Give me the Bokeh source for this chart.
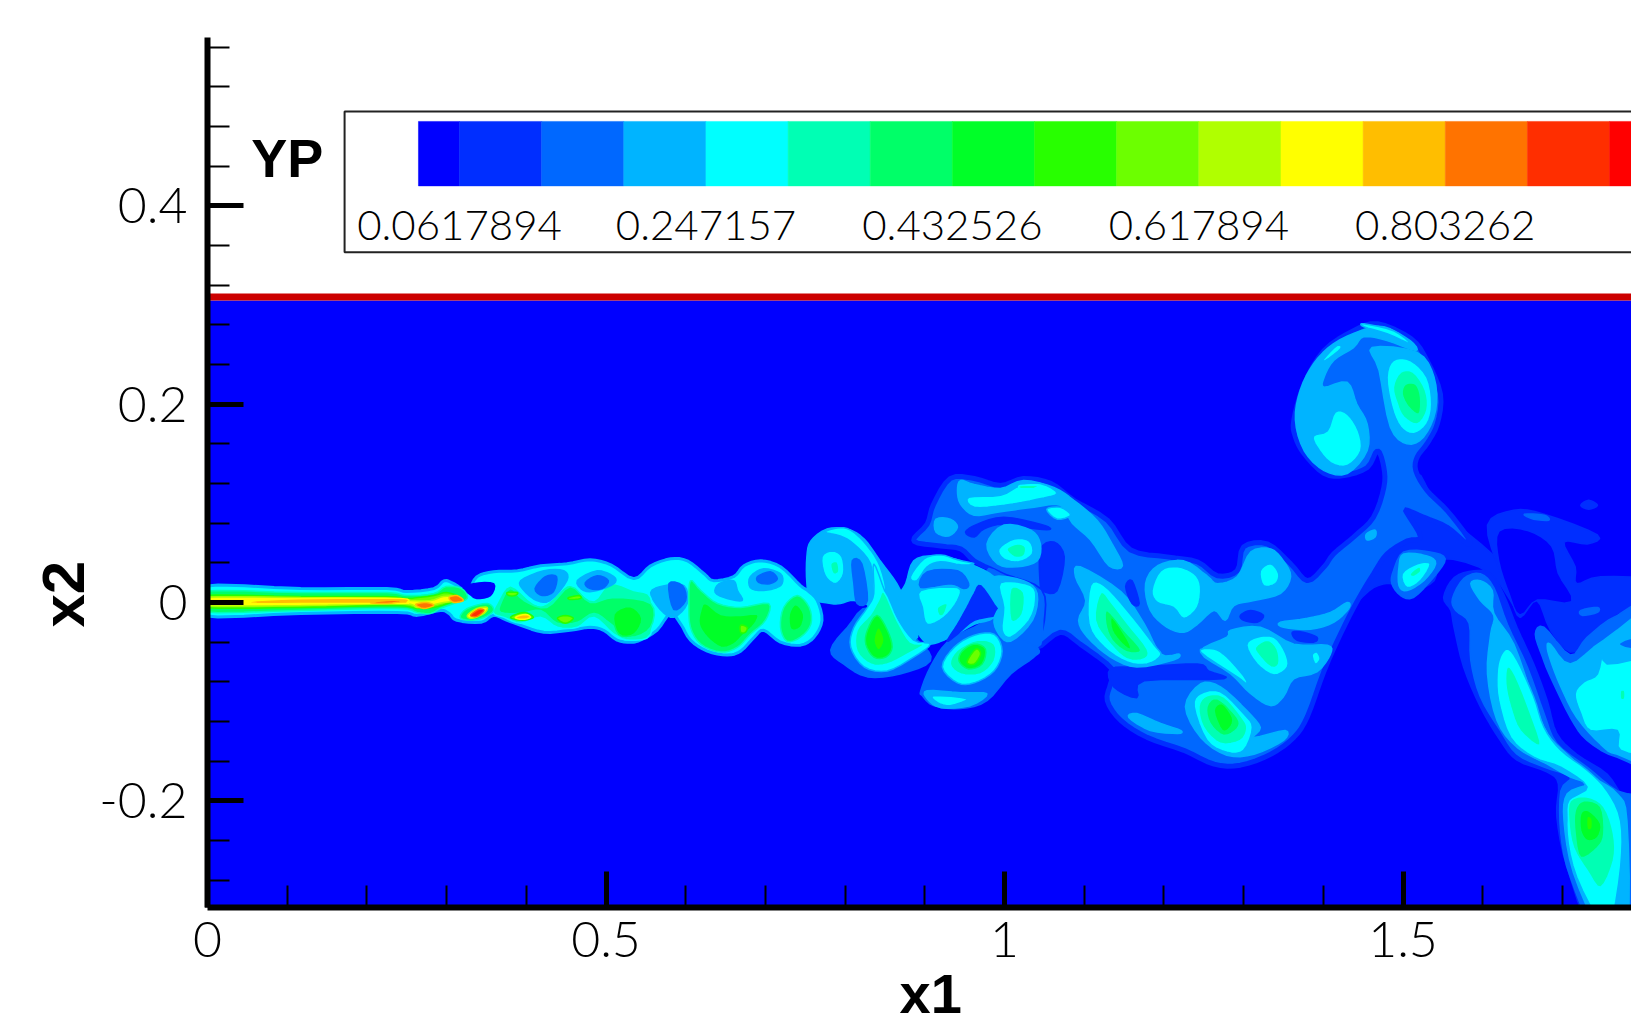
from bokeh.embed import file_html
from bokeh.resources import INLINE
from bokeh.plotting import figure
from bokeh.models import ColumnDataSource, FixedTicker, Label, Title

# ---- legend -------------------------------------------------------------
LEVEL_COLORS = ["#0000ff", "#002eff", "#0068ff", "#00b4ff", "#00ffff", "#00ffb4", "#00ff68", "#00ff28",
                "#28ff00", "#6cff00", "#b0ff00", "#ffff00", "#ffbe00", "#ff7300", "#ff2e00", "#ff0000"]
LEVEL_EDGES = [0.030895, 0.0617894, 0.123579, 0.185368, 0.247157, 0.308947, 0.370736, 0.432526, 0.494315,
               0.556105, 0.617894, 0.679684, 0.741473, 0.803262, 0.865052, 0.926841, 1.02]
LEGEND_TICKS = [0.0617894, 0.247157, 0.432526, 0.617894, 0.803262]
LEGEND_TEXT = ["0.0617894", "0.247157", "0.432526", "0.617894", "0.803262"]

# ---- axes ---------------------------------------------------------------
X_MAJOR = [0, 0.5, 1, 1.5]
X_MINOR = [0.1, 0.2, 0.3, 0.4, 0.6, 0.7, 0.8, 0.9, 1.1, 1.2, 1.3, 1.4, 1.6, 1.7]
Y_MAJOR = [-0.2, 0, 0.2, 0.4]
Y_MINOR = [-0.28, -0.24, -0.16, -0.12, -0.08, -0.04, 0.04, 0.08, 0.12, 0.16, 0.24, 0.28, 0.32, 0.36,
           0.44, 0.48, 0.52, 0.56]

# ---- contour bands: (level index, outline in x1, x2) ---------------------
WALL_DARK = [
    (1, [(1.518,.13),(1.539,.103),(1.572,.076),(1.622,.039),(1.648,-.015),(1.61,.029),(1.551,.044),(1.539,.022),(1.514,.011),(1.497,.007),(1.486,.019),(1.463,.015),(1.443,.002),(1.463,.029),(1.48,.049),(1.505,.062),(1.505,.09)]),
    (1, [(1.606,.078),(1.639,.093),(1.677,.089),(1.744,.068),(1.731,.059),(1.702,.061),(1.716,.036),(1.718,.019),(1.748,.026),(1.82,.022),(1.82,.002),(1.769,-.011),(1.731,-.038),(1.71,-.05),(1.685,-.028),(1.668,.002),(1.647,-.015),(1.635,.005),(1.622,.03)]),
    (0, [(1.622,.071),(1.656,.071),(1.685,.056),(1.693,.029),(1.71,.002),(1.668,.004),(1.647,-.011),(1.635,.009),(1.622,.042)]),
    (1, [(1.723,.098),(1.733,.103),(1.744,.098),(1.733,.094)]),
    (2, [(1.652,.089),(1.677,.088),(1.683,.083),(1.664,.084)]),
    (2, [(1.723,-.008),(1.744,-.005),(1.744,-.01),(1.725,-.013)]),
]
BODY = [
    (2, [(.886,.062),(.903,.079),(.911,.099),(.932,.125),(.962,.125),(.995,.118),(1.024,.125),(1.058,.12),(1.087,.103),(1.129,.083),(1.158,.053),(1.204,.046),(1.242,.041),(1.267,.027),(1.292,.032),(1.3,.056),(1.33,.059),(1.359,.039),(1.38,.022),(1.401,.036),(1.413,.049),(1.438,.066),(1.463,.086),(1.476,.116),(1.476,.136),(1.468,.153),(1.455,.136),(1.426,.128),(1.401,.13),(1.376,.15),(1.365,.167),(1.363,.184),(1.376,.22),(1.401,.254),(1.438,.274),(1.468,.281),(1.51,.266),(1.53,.244),(1.547,.21),(1.543,.18),(1.53,.16),(1.518,.147),(1.516,.133),(1.53,.113),(1.555,.093),(1.581,.066),(1.581,.059),(1.555,.076),(1.526,.086),(1.505,.093),(1.505,.09),(1.522,.066),(1.505,.062),(1.48,.049),(1.463,.029),(1.443,.002),(1.422,-.031),(1.401,-.069),(1.38,-.115),(1.363,-.136),(1.334,-.153),(1.296,-.164),(1.263,-.163),(1.225,-.149),(1.179,-.136),(1.146,-.119),(1.129,-.099),(1.133,-.082),(1.135,-.067),(1.095,-.042),(1.07,-.03),(1.041,-.045),(1.048,-.018),(1.045,.012),(1.003,.026),(.987,.032),(.962,.042),(.945,.054),(.92,.057)]),
    (1, [(1.133,-.067),(1.171,-.065),(1.242,-.062),(1.256,-.069),(1.275,-.077),(1.175,-.079),(1.166,-.096),(1.137,-.085)]),
    (1, [(.951,.071),(.966,.079),(.999,.086),(1.045,.079),(1.058,.074),(1.041,.074),(.999,.079),(.974,.074),(.962,.066)]),
    (1, [(1.045,.053),(1.062,.061),(1.075,.046),(1.066,.012),(1.049,.011),(1.045,.016)]),
    (3, [(.941,.113),(.945,.123),(.962,.119),(.995,.115),(1.024,.123),(1.062,.116),(1.087,.103),(1.116,.083),(1.135,.059),(1.148,.037),(1.131,.037),(1.108,.063),(1.085,.08),(1.07,.098),(1.037,.096),(.991,.091),(.962,.088),(.945,.099)]),
    (4, [(.955,.106),(.995,.108),(1.02,.118),(1.045,.12),(1.066,.11),(1.041,.104),(1.0,.098),(.962,.096)]),
    (5, [(1.02,.118),(1.041,.118),(1.037,.115),(1.02,.115)]),
    (4, [(1.053,.094),(1.07,.096),(1.083,.088),(1.066,.084)]),
    (3, [(.914,.084),(.932,.084),(.941,.076),(.93,.067),(.914,.071)]),
    (3, [(.978,.059),(.999,.078),(1.033,.073),(1.045,.059),(1.041,.042),(1.016,.036),(.991,.039)]),
    (4, [(.993,.054),(1.012,.064),(1.031,.062),(1.035,.049),(1.018,.041),(.999,.044)]),
    (5, [(1.003,.054),(1.016,.059),(1.026,.056),(1.024,.047),(1.012,.046)]),
]
CENTRE = [
    (3, [(1.177,.019),(1.192,.037),(1.225,.042),(1.254,.027),(1.267,.019),(1.292,.026),(1.309,.051),(1.334,.054),(1.35,.042),(1.359,.026),(1.346,.009),(1.313,.002),(1.288,-.003),(1.277,-.018),(1.263,-.008),(1.242,-.022),(1.225,-.03),(1.204,-.025),(1.183,-.008)]),
    (4, [(1.185,.012),(1.196,.032),(1.217,.036),(1.238,.029),(1.246,.016),(1.242,-.005),(1.225,-.016),(1.212,-.005),(1.192,.0)]),
    (4, [(1.321,.032),(1.334,.039),(1.344,.029),(1.34,.019),(1.325,.017)]),
    (3, [(1.089,.026),(1.095,.036),(1.146,.011),(1.175,-.021),(1.196,-.052),(1.219,-.052),(1.212,-.058),(1.166,-.065),(1.133,-.055),(1.104,-.035),(1.093,-.018),(1.102,.002)]),
    (4, [(1.108,.017),(1.125,.017),(1.154,-.008),(1.187,-.042),(1.196,-.053),(1.179,-.062),(1.154,-.06),(1.125,-.045),(1.106,-.022)]),
    (5, [(1.121,.01),(1.135,-.001),(1.154,-.021),(1.179,-.047),(1.175,-.057),(1.154,-.057),(1.133,-.042),(1.114,-.018)]),
    (6, [(1.129,-.008),(1.15,-.028),(1.171,-.048),(1.154,-.05),(1.135,-.038),(1.127,-.021)]),
    (7, [(1.135,-.015),(1.154,-.037),(1.158,-.047),(1.148,-.042),(1.135,-.028)]),
    (3, [(1.346,-.02),(1.38,-.016),(1.409,-.01),(1.43,.0),(1.432,-.006),(1.413,-.02),(1.384,-.027),(1.35,-.025)]),
    (3, [(1.246,-.05),(1.279,-.035),(1.284,-.028),(1.321,-.025),(1.363,-.042),(1.405,-.043),(1.409,-.052),(1.392,-.07),(1.363,-.077),(1.35,-.095),(1.334,-.104),(1.309,-.092),(1.284,-.072)]),
    (4, [(1.304,-.043),(1.317,-.035),(1.338,-.035),(1.352,-.05),(1.355,-.065),(1.338,-.073),(1.317,-.062)]),
    (5, [(1.315,-.045),(1.33,-.038),(1.342,-.047),(1.344,-.062),(1.334,-.065),(1.319,-.053)]),
    (4, [(1.246,-.05),(1.263,-.047),(1.279,-.055),(1.3,-.074),(1.304,-.082),(1.292,-.075)]),
    (4, [(1.386,-.053),(1.392,-.05),(1.396,-.057),(1.39,-.062)]),
    (3, [(1.227,-.105),(1.246,-.082),(1.271,-.085),(1.304,-.109),(1.321,-.126),(1.313,-.136),(1.352,-.129),(1.35,-.139),(1.313,-.153),(1.279,-.154),(1.246,-.136)]),
    (4, [(1.238,-.105),(1.246,-.092),(1.271,-.09),(1.3,-.112),(1.311,-.126),(1.3,-.149),(1.279,-.151),(1.254,-.139)]),
    (5, [(1.244,-.105),(1.254,-.094),(1.275,-.095),(1.298,-.116),(1.304,-.127),(1.296,-.139),(1.271,-.142),(1.25,-.126)]),
    (6, [(1.254,-.105),(1.267,-.097),(1.292,-.116),(1.292,-.127),(1.275,-.134),(1.258,-.122)]),
    (7, [(1.263,-.109),(1.273,-.102),(1.286,-.116),(1.283,-.126),(1.273,-.129)]),
    (3, [(1.156,-.116),(1.166,-.112),(1.196,-.122),(1.221,-.129),(1.217,-.132),(1.183,-.129)]),
    (1, [(1.296,-.013),(1.309,-.008),(1.325,-.013),(1.317,-.02),(1.3,-.018)]),
    (1, [(1.361,-.03),(1.375,-.03),(1.392,-.035),(1.388,-.04),(1.367,-.038)]),
    (1, [(1.152,.016),(1.16,.022),(1.169,-.001),(1.16,-.001)]),
]
MUSHROOM = [
    (3, [(1.365,.184),(1.371,.214),(1.388,.241),(1.413,.261),(1.447,.274),(1.476,.278),(1.509,.264),(1.516,.254),(1.48,.264),(1.451,.268),(1.438,.257),(1.413,.244),(1.401,.227),(1.401,.217),(1.43,.222),(1.442,.2),(1.455,.18),(1.455,.153),(1.43,.13),(1.401,.133),(1.376,.153)]),
    (3, [(1.461,.257),(1.518,.252),(1.539,.227),(1.541,.194),(1.526,.167),(1.505,.16),(1.484,.177),(1.47,.234)]),
    (4, [(1.401,.246),(1.417,.259),(1.422,.256),(1.403,.244)]),
    (4, [(1.451,.281),(1.488,.274),(1.509,.261),(1.48,.271),(1.451,.278)]),
    (4, [(1.388,.168),(1.405,.173),(1.415,.192),(1.43,.19),(1.444,.173),(1.447,.153),(1.43,.138),(1.409,.141),(1.392,.157)]),
    (4, [(1.48,.227),(1.488,.244),(1.509,.244),(1.53,.227),(1.536,.2),(1.53,.18),(1.513,.17),(1.497,.177),(1.486,.197)]),
    (5, [(1.488,.217),(1.497,.232),(1.513,.232),(1.528,.214),(1.53,.194),(1.518,.18),(1.501,.187),(1.493,.2)]),
    (6, [(1.499,.21),(1.503,.22),(1.516,.22),(1.522,.207),(1.52,.19),(1.507,.197)]),
    (3, [(1.454,.069),(1.465,.073),(1.465,.066),(1.455,.063)]),
    (2, [(1.488,.032),(1.501,.051),(1.534,.051),(1.553,.044),(1.539,.026),(1.513,.005),(1.497,.007),(1.486,.019)]),
    (3, [(1.495,.036),(1.501,.049),(1.53,.047),(1.541,.039),(1.526,.022),(1.505,.012),(1.495,.017)]),
    (4, [(1.499,.029),(1.518,.039),(1.534,.039),(1.522,.022),(1.505,.015)]),
    (5, [(1.509,.029),(1.52,.036),(1.522,.031),(1.513,.026)]),
]
RIGHT_SIDE = [
    (1, [(1.551,.005),(1.564,.025),(1.589,.032),(1.61,.029),(1.626,.009),(1.643,-.025),(1.664,-.062),(1.681,-.099),(1.693,-.132),(1.718,-.153),(1.756,-.173),(1.781,-.2),(1.82,-.216),(1.82,-.33),(1.741,-.33),(1.706,-.267),(1.693,-.216),(1.695,-.183),(1.681,-.171),(1.643,-.159),(1.622,-.139),(1.597,-.105),(1.576,-.065),(1.564,-.025),(1.56,-.008)]),
    (2, [(1.562,.004),(1.576,.024),(1.597,.029),(1.614,.015),(1.631,-.022),(1.656,-.065),(1.677,-.112),(1.693,-.142),(1.731,-.166),(1.769,-.19),(1.82,-.21),(1.82,-.33),(1.745,-.33),(1.71,-.277),(1.698,-.233),(1.698,-.19),(1.71,-.176),(1.677,-.166),(1.643,-.153),(1.622,-.129),(1.597,-.095),(1.585,-.058),(1.583,-.021),(1.566,-.008)]),
    (3, [(1.585,.019),(1.597,.022),(1.612,.012),(1.614,-.011),(1.639,-.042),(1.664,-.099),(1.681,-.132),(1.706,-.153),(1.739,-.176),(1.769,-.193),(1.781,-.22),(1.781,-.33),(1.748,-.33),(1.714,-.273),(1.702,-.22),(1.706,-.193),(1.731,-.183),(1.71,-.176),(1.681,-.163),(1.643,-.146),(1.618,-.119),(1.606,-.072),(1.61,-.032),(1.614,-.013),(1.597,.002)]),
    (4, [(1.622,-.055),(1.631,-.047),(1.643,-.058),(1.664,-.095),(1.677,-.126),(1.698,-.149),(1.731,-.169),(1.756,-.19),(1.773,-.22),(1.773,-.267),(1.76,-.33),(1.752,-.33),(1.718,-.277),(1.706,-.233),(1.71,-.2),(1.731,-.186),(1.698,-.166),(1.664,-.156),(1.635,-.136),(1.62,-.099),(1.618,-.072)]),
    (5, [(1.631,-.065),(1.641,-.074),(1.66,-.112),(1.672,-.144),(1.647,-.129),(1.635,-.105),(1.629,-.082)]),
    (5, [(1.71,-.2),(1.731,-.196),(1.752,-.206),(1.764,-.233),(1.764,-.26),(1.748,-.287),(1.731,-.27),(1.714,-.247),(1.708,-.22)]),
    (6, [(1.716,-.21),(1.727,-.2),(1.748,-.206),(1.752,-.233),(1.744,-.247),(1.723,-.257),(1.716,-.233)]),
    (7, [(1.723,-.213),(1.733,-.21),(1.748,-.223),(1.744,-.237),(1.731,-.24),(1.723,-.23)]),
    (8, [(1.731,-.216),(1.737,-.218),(1.737,-.228),(1.731,-.228)]),
    (2, [(1.666,-.032),(1.677,-.025),(1.71,-.053),(1.731,-.035),(1.769,-.013),(1.82,-.005),(1.82,-.156),(1.769,-.156),(1.731,-.139),(1.71,-.116),(1.685,-.075),(1.675,-.055)]),
    (3, [(1.681,-.045),(1.685,-.042),(1.71,-.062),(1.752,-.038),(1.82,-.013),(1.82,-.153),(1.769,-.153),(1.748,-.143),(1.718,-.116),(1.698,-.085),(1.685,-.058)]),
    (2, [(1.773,-.042),(1.82,-.032),(1.82,-.047)]),
    (4, [(1.716,-.092),(1.727,-.08),(1.744,-.072),(1.752,-.045),(1.756,-.062),(1.82,-.062),(1.82,-.147),(1.773,-.149),(1.769,-.129),(1.735,-.129),(1.723,-.112)]),
    (5, [(1.773,-.089),(1.778,-.089),(1.778,-.097),(1.773,-.097)]),
]
LOWER_VORTICES = [
    (2, [(.782,-.048),(.803,-.025),(.832,-.005),(.891,-.038),(.907,-.059),(.869,-.072),(.828,-.075),(.798,-.062)]),
    (2, [(.895,-.089),(.907,-.065),(.928,-.04),(.962,-.025),(.999,-.015),(1.041,-.045),(1.037,-.055),(1.008,-.072),(.978,-.099),(.945,-.107),(.911,-.104),(.897,-.094)]),
    (2, [(.978,.032),(1.003,.026),(1.045,.012),(1.048,-.018),(1.041,-.045),(.999,-.015)]),
    (3, [(.752,.046),(.757,.062),(.777,.074),(.803,.074),(.824,.064),(.844,.042),(.865,.019),(.878,-.005),(.891,-.035),(.861,-.038),(.832,-.005),(.811,.002),(.794,-.001),(.782,-.001),(.757,.004),(.752,.02)]),
    (4, [(.775,.071),(.79,.075),(.807,.073),(.828,.057),(.844,.036),(.851,.009),(.836,.009),(.832,.039),(.811,.059),(.794,.067)]),
    (2, [(.809,.042),(.821,.039),(.828,.002),(.815,-.001),(.811,.019)]),
    (4, [(.771,.046),(.784,.052),(.796,.046),(.798,.029),(.788,.019),(.775,.027)]),
    (5, [(.782,.039),(.79,.041),(.792,.031),(.785,.029)]),
    (3, [(.876,.019),(.886,.042),(.911,.047),(.945,.042),(.982,.029),(1.003,.009),(.987,-.015),(.962,-.022),(.932,-.035),(.907,-.042),(.895,-.035),(.878,-.015),(.865,.002)]),
    (4, [(.882,.026),(.899,.044),(.92,.048),(.941,.043),(.962,.039),(.945,.038),(.92,.041),(.903,.036),(.89,.022)]),
    (2, [(.903,.031),(.941,.032),(.955,.019),(.949,.014),(.932,.019),(.895,.015)]),
    (4, [(.895,.012),(.941,.015),(.941,.002),(.924,-.015),(.903,-.022),(.897,-.005)]),
    (5, [(.916,-.005),(.928,-.001),(.924,-.012),(.918,-.013)]),
    (1, [(.962,.009),(.97,.017),(.987,-.002),(.993,-.012),(.962,-.018),(.941,-.032),(.928,-.039),(.941,-.022),(.953,-.005)]),
    (4, [(.836,.039),(.851,.009),(.865,-.015),(.886,-.038),(.907,-.042),(.886,-.055),(.853,-.069),(.824,-.065),(.807,-.045),(.811,-.025),(.828,-.005),(.836,.009)]),
    (5, [(.849,.01),(.865,-.018),(.882,-.04),(.899,-.042),(.878,-.052),(.853,-.062),(.832,-.062),(.815,-.049),(.815,-.028),(.832,-.012),(.842,.002)]),
    (7, [(.84,-.013),(.853,-.028),(.859,-.045),(.851,-.055),(.836,-.055),(.826,-.042),(.828,-.028)]),
    (8, [(.842,-.025),(.849,-.038),(.842,-.048),(.836,-.038)]),
    (4, [(.962,-.033),(.987,-.032),(.997,-.049),(.987,-.069),(.962,-.081),(.941,-.081),(.922,-.065),(.937,-.045)]),
    (5, [(.966,-.038),(.987,-.042),(.987,-.059),(.97,-.072),(.945,-.072),(.932,-.062),(.941,-.048)]),
    (7, [(.962,-.042),(.976,-.047),(.972,-.062),(.955,-.067),(.943,-.059),(.947,-.049)]),
    (9, [(.964,-.047),(.97,-.052),(.962,-.062),(.953,-.06)]),
    (3, [(.903,-.089),(.945,-.091),(.978,-.092),(.957,-.104),(.92,-.106),(.903,-.097)]),
    (4, [(.911,-.094),(.953,-.097),(.932,-.104),(.916,-.101)]),
    (3, [(.987,.026),(1.024,.022),(1.041,.009),(1.035,-.018),(1.008,-.039),(.993,-.032),(.987,-.015),(1.003,.009)]),
    (4, [(.995,.02),(1.033,.017),(1.039,.002),(1.031,-.018),(1.008,-.035),(.997,-.028),(.999,-.005)]),
    (5, [(1.008,.014),(1.024,.01),(1.022,-.012),(1.008,-.018)]),
]
WAKE = [
    (4, [(-.01,.016),(.117,.014),(.225,.014),(.25,.011),(.284,.014),(.297,.022),(.309,.019),(.326,.012),(.338,.026),(.359,.031),(.389,.032),(.418,.037),(.451,.039),(.48,.043),(.506,.038),(.535,.024),(.556,.037),(.581,.044),(.602,.042),(.623,.029),(.635,.022),(.66,.026),(.673,.037),(.694,.042),(.719,.036),(.744,.017),(.753,.012),(.765,.002),(.771,-.018),(.761,-.035),(.744,-.043),(.719,-.04),(.698,-.028),(.686,-.035),(.669,-.049),(.652,-.053),(.627,-.049),(.606,-.038),(.594,-.022),(.581,-.011),(.564,-.028),(.543,-.038),(.531,-.04),(.514,-.038),(.497,-.028),(.48,-.025),(.455,-.028),(.422,-.03),(.393,-.023),(.376,-.018),(.359,-.013),(.343,-.02),(.313,-.018),(.303,-.011),(.292,-.008),(.263,-.013),(.238,-.01),(.117,-.011),(-.01,-.013)]),
    (3, [(.556,.01),(.573,.017),(.598,.017),(.602,-.001),(.585,-.015),(.568,-.007)]),
    (2, [(.579,.019),(.596,.017),(.6,.002),(.585,-.007)]),
    (3, [(.681,.026),(.698,.034),(.719,.029),(.721,.019),(.711,.014),(.694,.012),(.681,.015)]),
    (2, [(.69,.026),(.706,.031),(.715,.024),(.706,.019),(.692,.02)]),
    (3, [(.642,.019),(.66,.022),(.665,.012),(.671,.002),(.652,.004),(.637,.01)]),
    (6, [(.606,.022),(.619,.012),(.64,-.001),(.669,-.005),(.704,-.001),(.7,-.018),(.681,-.032),(.665,-.045),(.644,-.05),(.619,-.042),(.606,-.025),(.604,-.001)]),
    (7, [(.625,-.001),(.644,-.012),(.669,-.013),(.69,-.012),(.686,-.022),(.673,-.032),(.66,-.042),(.644,-.045),(.627,-.035),(.617,-.022),(.619,-.008)]),
    (9, [(.669,-.023),(.677,-.025),(.675,-.03),(.669,-.03)]),
    (6, [(.74,.007),(.755,-.005),(.757,-.022),(.744,-.035),(.727,-.039),(.719,-.025),(.723,-.005)]),
    (7, [(.738,-.002),(.748,-.012),(.744,-.025),(.732,-.027),(.73,-.012)]),
    (5, [(.363,-.001),(.38,.017),(.409,-.001),(.426,-.001),(.451,.017),(.464,.012),(.485,.002),(.505,.019),(.535,.012),(.556,.005),(.556,-.032),(.53,-.038),(.51,-.032),(.485,-.015),(.464,-.025),(.439,-.025),(.418,-.015),(.393,-.021),(.372,-.015),(.359,-.011)]),
    (6, [(.368,-.001),(.38,.014),(.397,.002),(.426,-.005),(.455,.016),(.48,.0),(.51,.005),(.556,-.001),(.556,-.025),(.53,-.035),(.505,-.021),(.485,-.011),(.464,-.02),(.439,-.021),(.418,-.008),(.393,-.011),(.368,-.01)]),
    (7, [(.51,-.012),(.53,-.004),(.545,-.016),(.535,-.032),(.516,-.032)]),
    (9, [(.439,-.016),(.449,-.013),(.459,-.016),(.449,-.021)]),
    (9, [(.376,.01),(.389,.01),(.386,.007),(.378,.007)]),
    (9, [(.453,.005),(.466,.007),(.468,.004),(.455,.003)]),
    (9, [(.38,-.015),(.397,-.01),(.409,-.015),(.395,-.018)]),
    (12, [(.386,-.015),(.399,-.012),(.405,-.015),(.395,-.017)]),
    (3, [(.393,.022),(.422,.032),(.447,.032),(.451,.022),(.43,.002),(.413,.002),(.397,.012)]),
    (2, [(.411,.014),(.424,.026),(.438,.026),(.434,.011),(.42,.007)]),
    (3, [(.464,.022),(.489,.032),(.51,.026),(.51,.019),(.489,.012),(.472,.012)]),
    (2, [(.474,.02),(.489,.027),(.503,.022),(.495,.014),(.48,.014)]),
    (0, [(.32,.014),(.334,.019),(.359,.019),(.355,.007),(.338,.004),(.328,.009)]),
]
JET = [
    (6, [(-.01,.011),(.117,.01),(.225,.01),(.25,.007),(.284,.009),(.299,.016),(.319,.014),(.326,.004),(.309,-.001),(.292,-.006),(.28,-.011),(.263,-.01),(.238,-.006),(.117,-.008),(-.01,-.009)]),
    (9, [(-.01,.007),(.117,.006),(.225,.006),(.25,.004),(.284,.007),(.3,.01),(.317,.005),(.305,.0),(.284,-.005),(.263,-.006),(.234,-.003),(.117,-.005),(-.01,-.005)]),
    (11, [(-.01,.005),(.117,.005),(.225,.004),(.255,.002),(.28,.002),(.296,.006),(.313,.006),(.317,.002),(.296,.0),(.28,-.003),(.263,-.005),(.242,-.001),(.117,-.003),(-.01,-.003)]),
    (12, [(.062,.002),(.137,.004),(.242,.004),(.25,.0),(.242,-.001),(.137,-.001),(.062,-.001)]),
    (13, [(.261,-.002),(.275,.0),(.284,-.003),(.271,-.006)]),
    (13, [(.303,.005),(.313,.007),(.321,.002),(.309,.0)]),
    (13, [(.204,.0),(.225,.002),(.25,.002),(.225,-.001)]),
    (6, [(.317,-.015),(.326,-.006),(.351,-.001),(.359,-.008),(.347,-.015),(.33,-.018)]),
    (11, [(.326,-.013),(.338,-.006),(.351,-.005),(.347,-.011),(.332,-.016)]),
    (14, [(.33,-.013),(.34,-.007),(.347,-.008),(.338,-.014)]),
]

# frame in data units, picture margins in pixels
X_END, Y_TOP, Y_BOT = 1.7867, 0.5696, -0.3075
FIG_W, FIG_H = 1631, 1027
BORDER_L, BORDER_T, BORDER_B = 207, 37, 120
FONT_THIN = "Lato Light"
FONT_BOLD = "Liberation Sans"


def smooth(points, steps=4):
    n, out = len(points), []
    for i in range(n):
        p0, p1, p2, p3 = points[i - 1], points[i], points[(i + 1) % n], points[(i + 2) % n]
        for s in range(steps):
            t = s / steps
            out.append(tuple(
                0.5 * (2 * b + (c - a) * t + (2 * a - 5 * b + 4 * c - d) * t * t + (3 * b - a - 3 * c + d) * t ** 3)
                for a, b, c, d in zip(p0, p1, p2, p3)))
    return out


p = figure(width=FIG_W, height=FIG_H, x_range=(0, X_END), y_range=(Y_BOT, Y_TOP),
           output_backend="svg", toolbar_location=None,
           min_border_left=BORDER_L, min_border_right=0, min_border_top=BORDER_T, min_border_bottom=BORDER_B)
p.outline_line_color = None
p.grid.visible = False
p.background_fill_color = "white"

# flow domain and upper wall
p.quad(left=0, right=1.9, top=0.3044, bottom=-0.33, fill_color=LEVEL_COLORS[0], line_color=None)
p.quad(left=0, right=1.9, top=0.3115, bottom=0.3044, fill_color="#cc0000", line_color=None)

groups = [WALL_DARK, BODY, CENTRE, MUSHROOM, RIGHT_SIDE, LOWER_VORTICES, WAKE, JET]
xs, ys, fills, edges, widths = [], [], [], [], []
for group in groups:
    for level, pts in group:
        sm = smooth(pts)
        xs.append([q[0] for q in sm])
        ys.append([q[1] for q in sm])
        big = len(pts) > 40
        fills.append(LEVEL_COLORS[level])
        rim = level - 1 if (level >= 4 or big) else level
        edges.append(LEVEL_COLORS[rim])
        widths.append(5 if (level == 2 and big) else (3 if (level == 4 and big) else 1.5))
p.patches("xs", "ys", source=ColumnDataSource(dict(xs=xs, ys=ys, f=fills, e=edges, w=widths)),
          fill_color="f", line_color="e", line_width="w")

# legend
p.quad(left=0.172, right=1.9, top=0.495, bottom=0.353, fill_color="white", line_color="#222222", line_width=2)


def legend_x(v):
    return 0.3162 + (v - LEGEND_TICKS[0]) * 0.10307 / 0.0617894


p.quad(left=[legend_x(v) for v in LEVEL_EDGES[:-1]], right=[legend_x(v) for v in LEVEL_EDGES[1:]],
       top=0.485, bottom=0.42, fill_color=LEVEL_COLORS, line_color=LEVEL_COLORS, line_width=0.5)
for v, t in zip(LEGEND_TICKS, LEGEND_TEXT):
    p.add_layout(Label(x=legend_x(v), y=0.38, text=t, text_font=FONT_THIN, text_font_size="42px",
                       text_align="center", text_baseline="middle", text_color="black"))
p.add_layout(Label(x=0.1, y=0.4486, text="YP", text_font=FONT_BOLD, text_font_style="bold",
                   text_font_size="54px", text_align="center", text_baseline="middle", text_color="black"))

# axes
for ax, major, minor, standoff in ((p.xaxis[0], X_MAJOR, X_MINOR, 14), (p.yaxis[0], Y_MAJOR, Y_MINOR, 20)):
    ax.ticker = FixedTicker(ticks=major, minor_ticks=minor)
    ax.major_label_overrides = {v: ("%g" % v) for v in major}
    ax.axis_line_color = "black"
    ax.axis_line_width = 6
    ax.major_tick_line_color = "black"
    ax.major_tick_line_width = 5
    ax.minor_tick_line_color = "black"
    ax.minor_tick_line_width = 2
    ax.major_tick_in = 36
    ax.major_tick_out = 0
    ax.minor_tick_in = 22
    ax.minor_tick_out = 0
    ax.major_label_text_font = FONT_THIN
    ax.major_label_text_font_size = "50px"
    ax.major_label_text_color = "black"
    ax.major_label_standoff = standoff
p.yaxis[0].major_label_orientation = "horizontal"

p.add_layout(Title(text="x1", align="left", offset=692, standoff=0, text_font=FONT_BOLD, text_font_style="bold",
                   text_font_size="56px", text_color="black", text_line_height=0.75), "below")
p.add_layout(Title(text="x2", align="left", offset=280, standoff=0, text_font=FONT_BOLD, text_font_style="bold",
                   text_font_size="60px", text_color="black"), "left")

open("out.html", "w").write(file_html(p, INLINE))
